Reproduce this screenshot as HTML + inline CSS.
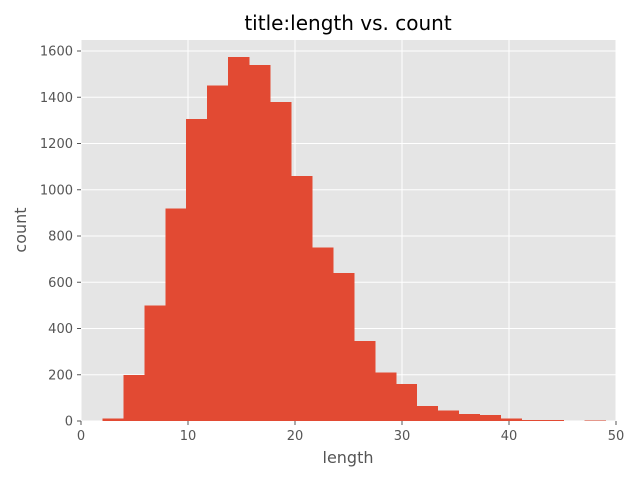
<!DOCTYPE html>
<html><head><meta charset="utf-8"><style>
body{margin:0;background:#fff;font-family:"DejaVu Sans","Liberation Sans",sans-serif;}
svg text{font-family:"DejaVu Sans","Liberation Sans",sans-serif;}
</style></head><body>
<svg id="chart" width="640" height="480" xmlns="http://www.w3.org/2000/svg">
<rect x="0" y="0" width="640" height="480" fill="#fff"/>
<rect x="81" y="40" width="535" height="381" fill="#E5E5E5"/>
<g id="grid"></g>
<g id="bars"></g>
<g id="ticks"></g>
<text x="348" y="30" text-anchor="middle" font-size="20" fill="#000">title:length vs. count</text>
<text x="348" y="463" text-anchor="middle" font-size="16" fill="#555">length</text>
<text x="26" y="230" text-anchor="middle" font-size="16" fill="#555" transform="rotate(-90 26 230)">count</text>
</svg>
<script>
const binStart = 2;
const binWidth = 47/24;
const counts = [10,200,500,920,1305,1450,1575,1540,1380,1060,750,640,345,210,160,65,45,30,25,10,5,5,0,3];
const xTicks = [0,10,20,30,40,50];
const yTicks = [0,200,400,600,800,1000,1200,1400,1600];
const X0=81, X1=616, Y0=421, Y1=51;
function sx(v){return X0+(v-0)*(X1-X0)/50;}
function sy(v){return Y0-(v)*(Y0-Y1)/1600;}
const NS="http://www.w3.org/2000/svg";
const grid=document.getElementById('grid'), bars=document.getElementById('bars'), ticks=document.getElementById('ticks');
function mk(t,a){const e=document.createElementNS(NS,t);for(const k in a)e.setAttribute(k,a[k]);return e;}
xTicks.forEach(v=>{
  const l=mk('line',{x1:sx(v),x2:sx(v),y1:40,y2:421,stroke:'#fff','stroke-width':1});
  
  
  grid.appendChild(l);
  const tk=mk('line',{x1:sx(v),x2:sx(v),y1:421,y2:425,stroke:'#555'});
  
  
  ticks.appendChild(tk);
  const t=mk('text',{x:sx(v),y:440,'text-anchor':'middle','font-size':13,fill:'#555'});
  t.textContent=v;
  
  
  ticks.appendChild(t);
});
yTicks.forEach(v=>{
  const l=mk('line',{x1:81,x2:616,y1:sy(v),y2:sy(v),stroke:'#fff','stroke-width':1});
  
  
  grid.appendChild(l);
  const tk=mk('line',{x1:77,x2:81,y1:sy(v),y2:sy(v),stroke:'#555'});
  
  
  ticks.appendChild(tk);
  const t=mk('text',{x:73,y:sy(v)+4.5,'text-anchor':'end','font-size':13,fill:'#555'});
  t.textContent=v;
  
  
  ticks.appendChild(t);
});
counts.forEach((c,i)=>{
  const a=sx(binStart+i*binWidth), b=sx(binStart+(i+1)*binWidth);
  const r=mk('rect',{x:a,y:sy(c),width:b-a+0.5,height:Y0-sy(c),fill:'#E24A33','shape-rendering':'crispEdges'});
  
  
  bars.appendChild(r);
});
</script>
</body></html>
